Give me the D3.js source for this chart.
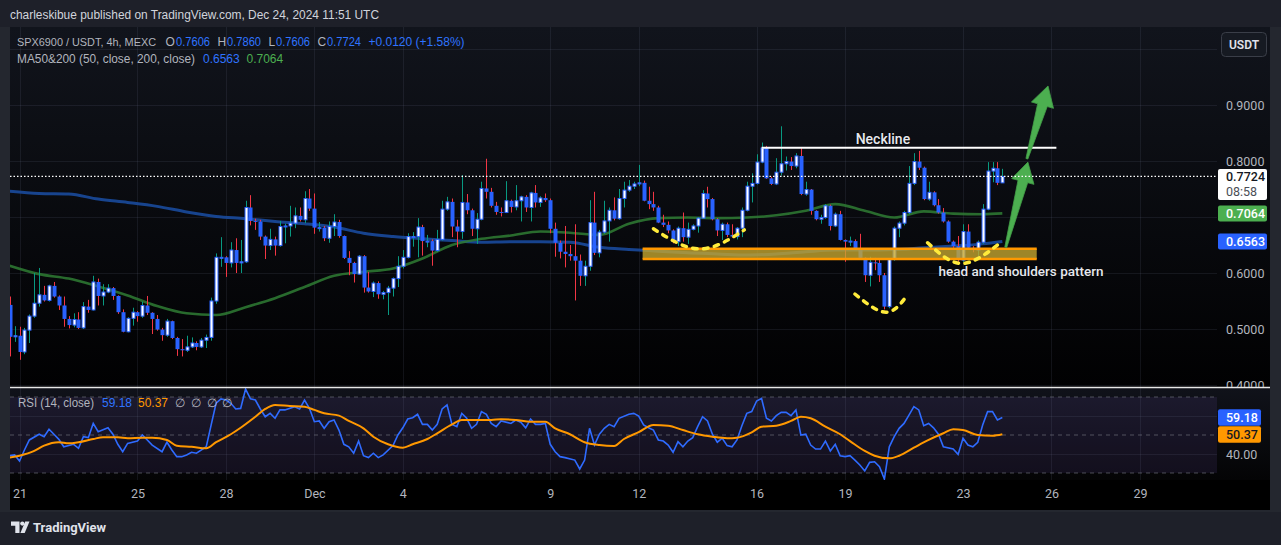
<!DOCTYPE html>
<html>
<head>
<meta charset="utf-8">
<script src="https://cdn.jsdelivr.net/npm/d3@7"></script>
<style>
html, body { margin: 0; padding: 0; background: #1e2029; }
svg { display: block; }
text { font-family: Roboto, "Noto Sans", sans-serif; }
.ui { font-family: "Liberation Sans", Arial, sans-serif; }
</style>
</head>
<body>
<div id="chart"></div>
<script>
// SPX6900 / USDT 4h candles, first candle Nov 20 16:00 UTC
var firstOpen = 0.543;
var closes = [0.486,0.488,0.459,0.498,0.523,0.546,0.561,0.551,0.577,0.558,0.542,0.518,0.507,0.517,0.502,0.540,0.534,0.584,0.559,0.566,
  0.573,0.559,0.530,0.495,0.519,0.530,0.523,0.542,0.529,0.518,0.499,0.489,0.514,0.484,0.464,0.462,0.468,0.475,0.468,0.480,
  0.485,0.550,0.628,0.628,0.618,0.641,0.618,0.620,0.717,0.693,0.692,0.665,0.649,0.660,0.649,0.683,0.684,0.689,0.702,0.695,
  0.733,0.715,0.681,0.681,0.662,0.683,0.691,0.666,0.627,0.618,0.598,0.630,0.574,0.567,0.582,0.562,0.565,0.573,0.590,0.612,
  0.628,0.665,0.665,0.682,0.657,0.657,0.640,0.660,0.714,0.727,0.683,0.674,0.726,0.712,0.679,0.696,0.751,0.745,0.720,0.709,
  0.708,0.729,0.718,0.729,0.736,0.717,0.743,0.726,0.734,0.730,0.679,0.654,0.638,0.634,0.630,0.622,0.595,0.612,0.690,0.636,
  0.673,0.693,0.712,0.697,0.733,0.748,0.755,0.759,0.761,0.729,0.723,0.717,0.690,0.686,0.676,0.656,0.680,0.664,0.678,0.684,
  0.698,0.742,0.732,0.696,0.676,0.687,0.668,0.665,0.680,0.712,0.755,0.760,0.798,0.823,0.769,0.759,0.780,0.795,0.799,0.791,
  0.809,0.741,0.749,0.711,0.696,0.699,0.720,0.684,0.705,0.659,0.656,0.657,0.644,0.627,0.596,0.619,0.618,0.596,0.540,0.624,
  0.680,0.689,0.708,0.760,0.799,0.788,0.732,0.744,0.721,0.708,0.692,0.656,0.648,0.623,0.674,0.645,0.641,0.655,0.714,0.782,
  0.787,0.761,0.7724];
var highs = [0.558,0.505,0.504,0.502,0.526,0.600,0.609,0.577,0.579,0.584,0.560,0.558,0.523,0.528,0.530,0.548,0.552,0.595,0.590,0.580,
  0.580,0.575,0.560,0.535,0.521,0.538,0.532,0.549,0.559,0.530,0.525,0.502,0.518,0.515,0.486,0.482,0.488,0.485,0.478,0.484,
  0.490,0.556,0.635,0.664,0.630,0.655,0.662,0.659,0.729,0.739,0.697,0.695,0.667,0.679,0.665,0.693,0.688,0.720,0.717,0.717,
  0.746,0.750,0.742,0.691,0.684,0.692,0.705,0.695,0.667,0.639,0.620,0.632,0.632,0.602,0.585,0.585,0.568,0.577,0.592,0.630,
  0.641,0.671,0.673,0.698,0.686,0.668,0.660,0.677,0.729,0.736,0.733,0.695,0.775,0.741,0.715,0.707,0.763,0.804,0.752,0.727,
  0.717,0.764,0.731,0.757,0.738,0.739,0.745,0.757,0.737,0.742,0.733,0.690,0.658,0.684,0.650,0.687,0.633,0.622,0.730,0.745,
  0.677,0.729,0.717,0.735,0.750,0.763,0.766,0.763,0.793,0.765,0.754,0.745,0.720,0.704,0.692,0.678,0.683,0.708,0.690,0.687,
  0.700,0.748,0.754,0.734,0.698,0.690,0.690,0.687,0.682,0.717,0.763,0.778,0.812,0.833,0.827,0.772,0.805,0.862,0.808,0.807,
  0.814,0.823,0.763,0.750,0.712,0.704,0.723,0.722,0.708,0.711,0.660,0.665,0.660,0.670,0.628,0.629,0.627,0.624,0.600,0.626,
  0.683,0.692,0.711,0.791,0.814,0.818,0.790,0.763,0.746,0.732,0.716,0.694,0.658,0.666,0.687,0.687,0.648,0.658,0.723,0.798,
  0.798,0.798,0.786];
var lows = [0.451,0.477,0.445,0.455,0.475,0.520,0.540,0.549,0.549,0.556,0.534,0.504,0.501,0.503,0.500,0.500,0.529,0.533,0.542,0.542,
  0.564,0.552,0.527,0.494,0.494,0.506,0.513,0.520,0.525,0.491,0.497,0.479,0.486,0.482,0.452,0.451,0.459,0.466,0.462,0.466,
  0.466,0.479,0.545,0.611,0.593,0.610,0.600,0.600,0.618,0.685,0.677,0.659,0.625,0.641,0.631,0.647,0.653,0.665,0.680,0.692,
  0.689,0.711,0.670,0.674,0.657,0.654,0.666,0.663,0.625,0.596,0.583,0.597,0.565,0.565,0.557,0.554,0.553,0.525,0.558,0.575,
  0.608,0.626,0.647,0.628,0.631,0.646,0.613,0.638,0.658,0.711,0.664,0.646,0.661,0.705,0.666,0.652,0.694,0.733,0.717,0.704,
  0.701,0.707,0.708,0.712,0.692,0.709,0.692,0.717,0.718,0.727,0.671,0.629,0.626,0.610,0.622,0.551,0.577,0.577,0.604,0.632,
  0.628,0.670,0.656,0.694,0.695,0.717,0.745,0.750,0.755,0.728,0.714,0.711,0.689,0.682,0.671,0.653,0.648,0.656,0.652,0.676,
  0.672,0.697,0.717,0.694,0.666,0.659,0.664,0.663,0.660,0.664,0.710,0.726,0.758,0.796,0.768,0.757,0.757,0.774,0.783,0.784,
  0.787,0.739,0.738,0.704,0.694,0.688,0.697,0.676,0.682,0.658,0.620,0.648,0.642,0.626,0.584,0.576,0.605,0.584,0.535,0.537,
  0.622,0.664,0.685,0.705,0.757,0.784,0.730,0.729,0.719,0.706,0.690,0.654,0.645,0.620,0.620,0.643,0.637,0.629,0.652,0.712,
  0.762,0.757,0.7606];

// moving averages, read once per day (candle index 0, 6, 12 ... 198, then 202)
var maIdx = d3.range(0, 199, 6).concat([202]);
var ma200 = [0.746,0.742,0.741,0.732,0.726,0.719,0.709,0.701,0.697,0.692,0.688,0.682,0.671,0.665,0.661,0.658,0.655,0.656,
  0.656,0.655,0.646,0.642,0.639,0.636,0.634,0.632,0.634,0.638,0.641,0.641,0.642,0.645,0.648,0.652,0.6563];
var ma50 = [0.613,0.598,0.590,0.576,0.560,0.541,0.528,0.525,0.539,0.555,0.575,0.595,0.602,0.608,0.626,0.650,0.661,0.667,
  0.674,0.672,0.668,0.688,0.698,0.699,0.698,0.699,0.703,0.711,0.723,0.711,0.699,0.710,0.706,0.705,0.7064];

// RSI(14) [candle index, value]
var rsiPts = [[0,39.1],[1,39.5],[2,36.3],[3,42.1],[4,47.4],[6,50.4],[7,49.1],[8,53],[9,50.4],[10,47.7],[11,43.8],[13,45.1],[14,43],
  [15,49.1],[16,48.6],[17,56.1],[18,51.7],[20,53.8],[21,50.4],[22,45.1],[23,41.2],[24,45.6],[26,46.8],[27,50],[28,47.4],[29,44.7],
  [31,41.2],[32,46.2],[33,42.1],[34,38.6],[35,38.6],[36,39.5],[37,40.9],[38,40.4],[40,43.8],[41,55.3],[42,66.7],[43,69],[44,68.4],
  [45,66.7],[46,63.7],[47,64],[48,74.2],[49,69],[50,68.4],[51,63.7],[52,59.6],[53,61.4],[54,58.8],[55,63.2],[56,63.2],[58,64.9],
  [59,63.7],[60,68.4],[61,64],[62,57],[63,57.4],[64,53.5],[65,57],[66,57.9],[67,52.6],[68,45.1],[69,43.8],[70,40.4],[71,46.8],
  [72,39.1],[73,38.1],[74,40.4],[75,38.1],[76,39.5],[78,44.4],[79,50],[80,53.8],[81,58.4],[82,59.1],[83,60.9],[84,55.6],[85,55.6],
  [86,52.6],[87,55.6],[88,63.7],[89,65.8],[90,55.6],[91,54.4],[92,61.4],[93,58.8],[94,53.5],[95,55.6],[96,62.3],[97,60.9],[98,56.1],
  [99,54.4],[100,57.4],[102,56.1],[103,57.9],[104,56.7],[105,53.8],[106,58.4],[107,55.6],[108,55.6],[109,56.1],[110,45.1],[111,41.2],
  [112,38.6],[113,38.1],[115,36.8],[116,32.1],[117,36.8],[118,53.5],[119,44.7],[120,50.4],[121,53.5],[122,55.6],[123,54.4],[124,58.8],
  [126,60.9],[127,61.4],[128,60],[129,55.3],[130,53.8],[131,52.6],[132,47.4],[133,46.8],[134,44.7],[135,40.9],[136,46.5],[137,43.8],
  [138,46.8],[139,48.6],[140,54.4],[141,59.6],[142,57.4],[143,50.4],[144,46.2],[145,48.3],[146,44.4],[147,43.8],[148,47.4],[149,54.9],
  [150,61.4],[151,62.3],[152,67.9],[153,69.3],[154,58.8],[155,57.4],[156,60.2],[157,61.9],[158,61.9],[159,60.2],[160,63.2],[161,50],
  [162,50.4],[163,44.7],[164,42.6],[165,42.6],[166,46.8],[167,41.6],[168,45.1],[169,39.1],[170,38.6],[171,39.1],[172,36.8],[173,34.2],
  [174,31.1],[175,35.6],[176,35.9],[177,33.3],[178,26.8],[179,43.8],[180,49.1],[181,53.5],[182,56.1],[183,60.5],[184,64.9],[185,63.2],
  [186,54.9],[187,56.1],[188,53.8],[189,50.4],[190,43.8],[192,42.6],[193,39.8],[194,48.3],[195,44.7],[196,43.8],[197,46.2],[198,55.3],
  [199,62.3],[200,62.3],[201,57.9],[202,59.18]];
// RSI-based MA
var rsiMaPts = [[0,38.1],[2,39.1],[5,41.6],[7,44.4],[10,46.2],[12,45.6],[14,46.2],[17,47.9],[19,48.8],[22,48.8],[24,48.3],[27,48.6],
  [29,48.6],[32,47.4],[34,44.4],[37,43.8],[40,43],[42,46.2],[45,50.4],[47,53.8],[50,59.6],[52,63.7],[54,65.8],[57,65.3],[60,64.9],
  [62,63.2],[64,61.4],[67,60.2],[69,57.4],[72,53.5],[74,49.1],[77,45.1],[80,43.3],[82,45.1],[85,47.9],[87,50.9],[90,55.6],[92,57.9],
  [95,57.9],[98,57.9],[100,58.3],[103,57.9],[106,57],[109,57],[111,53.5],[114,50.4],[117,46.2],[120,44.7],[123,44.2],[125,47.9],
  [128,51.5],[131,55.3],[134,54.9],[137,52.6],[140,50.4],[143,49.1],[146,48.3],[148,48.6],[151,51.4],[153,54.4],[156,54.9],[159,57.4],
  [161,59.6],[163,58.8],[166,54.4],[169,50.4],[171,46.8],[174,41.6],[176,39.1],[179,37.7],[181,39.1],[184,43.3],[187,47.4],[190,50.9],
  [192,53],[194,52.6],[197,50],[200,49.6],[202,50.37]];

var tickDates = ["2024-11-21","2024-11-25","2024-11-28","2024-12-01","2024-12-04","2024-12-09","2024-12-12","2024-12-16",
  "2024-12-19","2024-12-23","2024-12-26","2024-12-29"];
var tickLabels = ["21","25","28","Dec","4","9","12","16","19","23","26","29"];
var priceGrid = [0.4, 0.5, 0.6, 0.7, 0.8, 0.9, 1.0];
var priceLabels = [0.4, 0.5, 0.6, 0.8, 0.9];   // 0.7 and 1.0 sit under the tag and the USDT button
var rsiGrid = [60, 40];
var rsiLabels = [40];

// drawings (candle index, price)
var neckline = { from: 153, to: 213, price: 0.8238, label: "Neckline", labelAt: 177.7 };
var zone = { from: 128.8, to: 209, top: 0.6434, bottom: 0.625 };
var arcs = [
  [[131, 0.679], [140.4, 0.643], [149.5, 0.677]],
  [[172, 0.5625], [178.3, 0.530], [182.7, 0.561]],
  [[186.8, 0.654], [193.7, 0.617], [201.3, 0.652]]
];
var arrows = [[[202.7, 0.646], [207.2, 0.798]], [[207, 0.804], [211.3, 0.934]]];
var patternNote = { text: "head and shoulders pattern", at: 205.8, price: 0.6036 };

var W = 1281, H = 545;
var paneL = 10, plotR = 1217, axisR = 1270;
var priceTop = 27, priceBot = 387, rsiTop = 388, rsiBot = 480, timeBot = 510;
var H4 = 4 * 3600 * 1000;
var t0 = Date.UTC(2024, 10, 20, 16);

var x = d3.scaleUtc()
  .domain([new Date(t0), new Date(t0 + 245 * H4)])
  .range([9.7, 9.7 + 245 * 4.914]);
var xi = function(i) { return x(new Date(t0 + i * H4)); };
var y = d3.scaleLinear().domain([0.4, 0.8]).range([385, 161]);
var yr = d3.scaleLinear().domain([30, 70]).range([473, 397]);

var blue = "#2962ff", upWick = "#089981", dnWick = "#f23645";

var svg = d3.select("#chart").append("svg").attr("width", W).attr("height", H);
var defs = svg.append("defs");

var g1 = defs.append("linearGradient").attr("id", "pg").attr("gradientUnits", "userSpaceOnUse")
  .attr("x1", 0).attr("y1", priceTop).attr("x2", 0).attr("y2", priceBot);
g1.append("stop").attr("offset", 0).attr("stop-color", "#11141c");
g1.append("stop").attr("offset", 1).attr("stop-color", "#010102");
var g2 = defs.append("linearGradient").attr("id", "rg").attr("gradientUnits", "userSpaceOnUse")
  .attr("x1", 0).attr("y1", rsiTop).attr("x2", 0).attr("y2", rsiBot);
g2.append("stop").attr("offset", 0).attr("stop-color", "#10121a");
g2.append("stop").attr("offset", 1).attr("stop-color", "#040405");

defs.append("clipPath").attr("id", "clipP").append("rect")
  .attr("x", paneL).attr("y", priceTop).attr("width", plotR - paneL).attr("height", priceBot - priceTop);
defs.append("clipPath").attr("id", "clipR").append("rect")
  .attr("x", paneL).attr("y", rsiTop).attr("width", plotR - paneL).attr("height", rsiBot - rsiTop);
defs.append("clipPath").attr("id", "clipAx").append("rect")
  .attr("x", plotR).attr("y", priceTop).attr("width", axisR - plotR).attr("height", priceBot - priceTop);

// frame, header, footer
svg.append("rect").attr("width", W).attr("height", H).attr("fill", "#24272f");
svg.append("rect").attr("width", W).attr("height", priceTop).attr("fill", "#1e2029");
svg.append("rect").attr("y", timeBot + 2).attr("width", W).attr("height", H - timeBot - 2).attr("fill", "#1e2029");
svg.append("text").attr("class", "ui").attr("x", 10).attr("y", 18.5).attr("fill", "#d1d4dc").attr("font-size", 12.5)
  .attr("textLength", 369).attr("lengthAdjust", "spacingAndGlyphs")
  .text("charleskibue published on TradingView.com, Dec 24, 2024 11:51 UTC");

// panes
svg.append("rect").attr("x", paneL).attr("y", priceTop).attr("width", axisR - paneL)
  .attr("height", priceBot - priceTop).attr("fill", "url(#pg)");
svg.append("rect").attr("x", paneL).attr("y", rsiTop).attr("width", axisR - paneL)
  .attr("height", rsiBot - rsiTop).attr("fill", "url(#rg)");
svg.append("rect").attr("x", paneL).attr("y", rsiBot).attr("width", axisR - paneL)
  .attr("height", timeBot - rsiBot).attr("fill", "#000");
svg.append("rect").attr("x", paneL).attr("y", yr(70)).attr("width", plotR - paneL)
  .attr("height", yr(30) - yr(70)).attr("fill", "rgba(126,87,194,0.12)");

// grid
var grid = svg.append("g").attr("stroke", "rgba(120,130,160,0.13)").attr("stroke-width", 1);
tickDates.forEach(function(d) {
  var gx = Math.round(x(new Date(d + "T00:00:00Z"))) + 0.5;
  grid.append("line").attr("x1", gx).attr("x2", gx).attr("y1", priceTop).attr("y2", rsiBot);
});
priceGrid.forEach(function(p) {
  var gy = Math.round(y(p)) + 0.5;
  grid.append("line").attr("x1", paneL).attr("x2", plotR).attr("y1", gy).attr("y2", gy);
});
rsiGrid.forEach(function(v) {
  var gy = Math.round(yr(v)) + 0.5;
  grid.append("line").attr("x1", paneL).attr("x2", plotR).attr("y1", gy).attr("y2", gy);
});
[70, 50, 30].forEach(function(v) {
  svg.append("line").attr("x1", paneL).attr("x2", plotR).attr("y1", yr(v)).attr("y2", yr(v))
    .attr("stroke", "#787b86").attr("stroke-opacity", 0.6).attr("stroke-dasharray", "4,4");
});

// price pane content
var pp = svg.append("g").attr("clip-path", "url(#clipP)");

var lineMA = d3.line().x(function(d) { return xi(d[0]); }).y(function(d) { return y(d[1]); }).curve(d3.curveMonotoneX);
pp.append("path").datum(maIdx.map(function(i, k) { return [i, ma200[k]]; }))
  .attr("d", lineMA).attr("fill", "none").attr("stroke", "#1a4a9c").attr("stroke-width", 3).attr("stroke-opacity", 0.9);
pp.append("path").datum(maIdx.map(function(i, k) { return [i, ma50[k]]; }))
  .attr("d", lineMA).attr("fill", "none").attr("stroke", "#2f7d34").attr("stroke-width", 2.6).attr("stroke-opacity", 0.85);

var candles = closes.map(function(c, i) {
  return { i: i, o: i ? closes[i - 1] : firstOpen, h: highs[i], l: lows[i], c: c };
});

var cg = pp.append("g");
cg.selectAll("line.wick").data(candles).enter().append("line")
  .attr("x1", function(d) { return Math.round(xi(d.i)) + 0.5; })
  .attr("x2", function(d) { return Math.round(xi(d.i)) + 0.5; })
  .attr("y1", function(d) { return y(d.h); })
  .attr("y2", function(d) { return y(d.l); })
  .attr("stroke", function(d) { return d.c >= d.o ? upWick : dnWick; })
  .attr("stroke-width", 1);
cg.selectAll("rect.body").data(candles).enter().append("rect")
  .attr("x", function(d) { return Math.round(xi(d.i)) - 1.5 + (d.c >= d.o ? 0.5 : 0); })
  .attr("width", function(d) { return d.c >= d.o ? 3 : 4; })
  .attr("y", function(d) { return y(Math.max(d.o, d.c)); })
  .attr("height", function(d) { return Math.max(1, Math.abs(y(d.o) - y(d.c))); })
  .attr("fill", function(d) { return d.c >= d.o ? "#ffffff" : blue; })
  .attr("stroke", function(d) { return d.c >= d.o ? blue : "none"; })
  .attr("stroke-width", 1);

// support zone
var zg = svg.append("g").attr("clip-path", "url(#clipP)");
zg.append("rect").attr("x", xi(zone.from)).attr("y", y(zone.top))
  .attr("width", xi(zone.to) - xi(zone.from)).attr("height", y(zone.bottom) - y(zone.top))
  .attr("fill", "#c4a630").attr("fill-opacity", 0.8);
[zone.top, zone.bottom].forEach(function(p) {
  zg.append("line").attr("x1", xi(zone.from)).attr("x2", xi(zone.to)).attr("y1", y(p)).attr("y2", y(p))
    .attr("stroke", "#ff9800").attr("stroke-width", 2.5);
});

// neckline
zg.append("line").attr("x1", xi(neckline.from)).attr("x2", xi(neckline.to))
  .attr("y1", y(neckline.price)).attr("y2", y(neckline.price))
  .attr("stroke", "#ffffff").attr("stroke-width", 2);
zg.append("text").attr("x", xi(neckline.labelAt)).attr("y", y(neckline.price) - 4)
  .attr("text-anchor", "middle").attr("fill", "#e6e8ee").attr("font-size", 14).attr("font-weight", 500)
  .attr("stroke", "#000").attr("stroke-width", 2).attr("stroke-opacity", 0.35).attr("paint-order", "stroke")
  .text(neckline.label);

// dashed arcs
var arcLine = d3.line().x(function(d) { return xi(d[0]); }).y(function(d) { return y(d[1]); }).curve(d3.curveNatural);
arcs.forEach(function(a) {
  zg.append("path").attr("d", arcLine(a)).attr("fill", "none").attr("stroke", "#ffeb3b")
    .attr("stroke-width", 3.5).attr("stroke-linecap", "round").attr("stroke-dasharray", "4.5,6.5");
});

zg.append("text").attr("x", xi(patternNote.at)).attr("y", y(patternNote.price) + 5)
  .attr("text-anchor", "middle").attr("fill", "#e6e8ee").attr("font-size", 13.5).attr("font-weight", 500)
  .attr("stroke", "#000").attr("stroke-width", 2).attr("stroke-opacity", 0.35).attr("paint-order", "stroke")
  .text(patternNote.text);

// arrows
arrows.forEach(function(a) {
  var bx = xi(a[0][0]), by = y(a[0][1]), tx = xi(a[1][0]), ty = y(a[1][1]);
  var len = Math.hypot(tx - bx, ty - by), ux = (tx - bx) / len, uy = (ty - by) / len;
  var nx = -uy, ny = ux, hl = 20, hw = 11.5, sw = 5, sb = 1;
  var hx = tx - ux * hl, hy = ty - uy * hl;
  var pts = [[bx + nx * sb, by + ny * sb], [hx + nx * sw, hy + ny * sw], [hx + nx * hw, hy + ny * hw], [tx, ty],
    [hx - nx * hw, hy - ny * hw], [hx - nx * sw, hy - ny * sw], [bx - nx * sb, by - ny * sb]];
  zg.append("path").attr("d", "M" + pts.map(function(p) { return p.join(","); }).join("L") + "Z")
    .attr("fill", "#4caf50").attr("stroke", "#43a047").attr("stroke-width", 0.8);
});

// last price line
svg.append("line").attr("x1", paneL).attr("x2", plotR).attr("y1", y(0.7724)).attr("y2", y(0.7724))
  .attr("stroke", "#ffffff").attr("stroke-width", 1.2).attr("stroke-dasharray", "1.5,2");

// RSI pane
var rp = svg.append("g").attr("clip-path", "url(#clipR)");
var lineR = d3.line().x(function(d) { return xi(d[0]); }).y(function(d) { return yr(d[1]); });
rp.append("path").datum(rsiPts).attr("d", lineR).attr("fill", "none").attr("stroke", "#2f6bff").attr("stroke-width", 1.6);
rp.append("path").datum(rsiMaPts).attr("d", lineR.curve(d3.curveMonotoneX)).attr("fill", "none")
  .attr("stroke", "#ff9800").attr("stroke-width", 2);

// pane separator
svg.append("line").attr("x1", paneL).attr("x2", axisR).attr("y1", priceBot + 0.5).attr("y2", priceBot + 0.5)
  .attr("stroke", "#e8e8e8").attr("stroke-width", 1.3);

// price axis
var pax = svg.append("g").attr("clip-path", "url(#clipAx)")
  .append("g").attr("transform", "translate(" + plotR + ",0)")
  .call(d3.axisRight(y).tickValues(priceLabels).tickFormat(d3.format(".4f")).tickSize(0).tickPadding(9));
pax.select(".domain").remove();
pax.selectAll("text").attr("fill", "#b2b5be").attr("font-size", 12.5).attr("font-family", "Roboto, sans-serif");

var rax = svg.append("g").attr("transform", "translate(" + plotR + ",0)")
  .call(d3.axisRight(yr).tickValues(rsiLabels).tickFormat(d3.format(".2f")).tickSize(0).tickPadding(9));
rax.select(".domain").remove();
rax.selectAll("text").attr("fill", "#b2b5be").attr("font-size", 12.5).attr("font-family", "Roboto, sans-serif");

// time axis
var tax = svg.append("g").attr("transform", "translate(0," + rsiBot + ")")
  .call(d3.axisBottom(x).tickValues(tickDates.map(function(d) { return new Date(d + "T00:00:00Z"); }))
    .tickFormat(function(d, k) { return tickLabels[k]; }).tickSize(0).tickPadding(9));
tax.select(".domain").remove();
tax.selectAll("text").attr("fill", "#b2b5be").attr("font-size", 12.5).attr("font-family", "Roboto, sans-serif");

// axis value labels
function tag(cy, h, w, fill, color, txt) {
  var g = svg.append("g");
  g.append("rect").attr("x", plotR + 1).attr("y", cy - h / 2).attr("width", w).attr("height", h)
    .attr("rx", 2).attr("fill", fill);
  g.append("text").attr("x", plotR + 9).attr("y", cy).attr("dy", "0.35em").attr("fill", color)
    .attr("font-size", 12.5).attr("font-weight", 500).text(txt);
  return g;
}
var lastY = y(0.7724);
svg.append("rect").attr("x", plotR + 1).attr("y", lastY - 7.5).attr("width", 49).attr("height", 31)
  .attr("rx", 2).attr("fill", "#ffffff");
svg.append("text").attr("x", plotR + 9).attr("y", lastY).attr("dy", "0.35em").attr("fill", "#131722")
  .attr("font-size", 12.5).attr("font-weight", 500).text("0.7724");
svg.append("text").attr("x", plotR + 9).attr("y", lastY + 15).attr("dy", "0.35em").attr("fill", "#4a4d55")
  .attr("font-size", 12.5).text("08:58");
tag(y(0.7064), 16, 49, "#4caf50", "#ffffff", "0.7064");
tag(y(0.6563), 16, 49, blue, "#ffffff", "0.6563");
var rBlueY = yr(59.18);
tag(rBlueY, 16.5, 43, "#2962ff", "#ffffff", "59.18");
tag(Math.max(yr(50.37), rBlueY + 17), 16.5, 43, "#ff9800", "#131722", "50.37");

// USDT button
svg.append("rect").attr("x", 1221.5).attr("y", 32.5).attr("width", 45).attr("height", 24).attr("rx", 4)
  .attr("fill", "#161a22").attr("stroke", "#3a3e48");
svg.append("text").attr("x", 1244).attr("y", 44.5).attr("dy", "0.35em").attr("text-anchor", "middle")
  .attr("fill", "#e0e3eb").attr("font-size", 12).attr("font-weight", 600).text("USDT");

// legends: [x, text, colour, width in the reference, font size]
function legend(yy, parts) {
  parts.forEach(function(p) {
    var t = svg.append("text").attr("class", "ui").attr("x", p[0]).attr("y", yy).attr("dy", "0.35em")
      .attr("fill", p[2]).attr("font-size", p[4] || 12).text(p[1]);
    if (p[3]) t.attr("textLength", p[3]).attr("lengthAdjust", "spacingAndGlyphs");
  });
}
var gray = "#b2b5be", valBlue = "#2f74ff";
legend(42, [[17, "SPX6900 / USDT, 4h, MEXC", gray, 139, 11], [165.5, "O", gray], [176, "0.7606", valBlue, 34],
  [217.5, "H", gray], [227, "0.7860", valBlue, 34], [268.5, "L", gray], [276, "0.7606", valBlue, 34],
  [317.5, "C", gray], [327, "0.7724", valBlue, 34], [368.5, "+0.0120 (+1.58%)", valBlue]]);
legend(59, [[17, "MA50&200 (50, close, 200, close)", gray, 178], [203, "0.6563", valBlue], [246.5, "0.7064", "#4caf50"]]);
legend(402.5, [[18, "RSI (14, close)", gray, 76], [102, "59.18", valBlue], [138, "50.37", "#ff9800"],
  [175, "\u2205", gray], [191, "\u2205", gray], [207, "\u2205", gray], [222, "\u2205", gray]]);

// footer logo
var logo = svg.append("g").attr("fill", "#e0e3eb");
logo.append("path").attr("d", "M11,521.5h8.5v11.5h-4.2v-7.3h-4.3z");
logo.append("circle").attr("cx", 22.3).attr("cy", 523.6).attr("r", 2.1);
logo.append("path").attr("d", "M25.2,521.5h4.3l-4.8,11.5h-4.3z");
svg.append("text").attr("x", 33).attr("y", 527).attr("dy", "0.35em").attr("fill", "#e0e3eb")
  .attr("font-size", 13).attr("font-weight", 700).text("TradingView");
</script>
</body>
</html>
